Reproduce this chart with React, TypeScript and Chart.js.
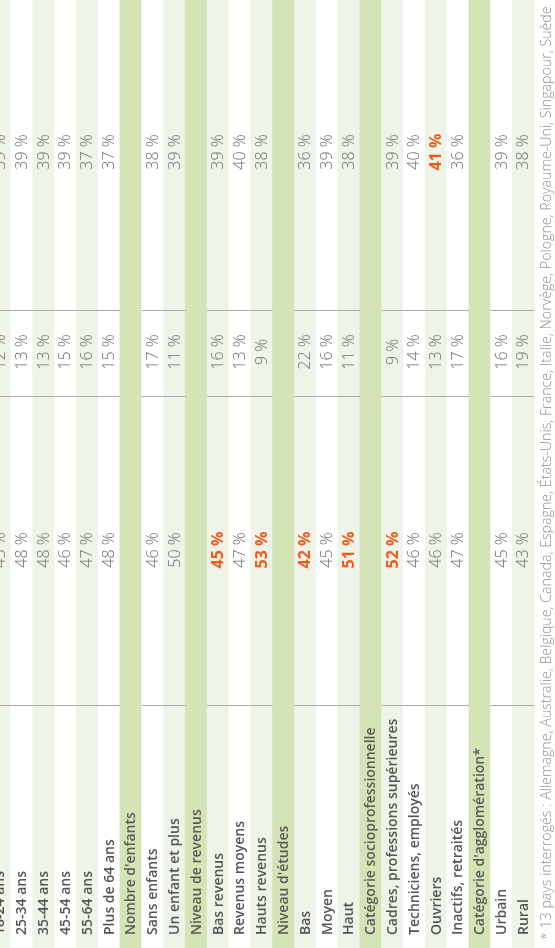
import { useEffect, useRef } from "react";
import { Chart, registerables } from "chart.js";

Chart.register(...registerables);

// ---- data ----
const rowLabels = [
  "18-24 ans",
  "25-34 ans",
  "35-44 ans",
  "45-54 ans",
  "55-64 ans",
  "Plus de 64 ans",
  "Nombre d'enfants",
  "Sans enfants",
  "Un enfant et plus",
  "Niveau de revenus",
  "Bas revenus",
  "Revenus moyens",
  "Hauts revenus",
  "Niveau d'études",
  "Bas",
  "Moyen",
  "Haut",
  "Catégorie socioprofessionnelle",
  "Cadres, professions supérieures",
  "Techniciens, employés",
  "Ouvriers",
  "Inactifs, retraités",
  "Catégorie d'agglomération*",
  "Urbain",
  "Rural",
];

const col1Values = [45, 48, 48, 46, 47, 48, null, 46, 50, null, 45, 47, 53, null, 42, 45, 51, null, 52, 46, 46, 47, null, 45, 43];
const col2Values = [12, 13, 13, 15, 16, 15, null, 17, 11, null, 16, 13, 9, null, 22, 16, 11, null, 9, 14, 13, 17, null, 16, 19];
const col3Values = [39, 39, 39, 39, 37, 37, null, 38, 39, null, 39, 40, 38, null, 36, 39, 38, null, 39, 40, 41, 36, null, 39, 38];

const col1Highlights = [10, 12, 14, 16, 18];
const col2Highlights: number[] = [];
const col3Highlights = [20];

const footnote =
  "* 13 pays interrogés : Allemagne, Australie, Belgique, Canada, Espagne, États-Unis, France, Italie, Norvège, Pologne, Royaume-Uni, Singapour, Suède";

// ---- layout (table units along the rotated axis) ----
const W = 555;
const H = 948;
const LABEL_START = 13;
const COL_CENTERS = [398, 596, 796];
const DIVIDERS = [243, 552, 638];
const FOOTNOTE_ROW = 25.08;
const FOOTNOTE_START = 8;

const HEADER_BG = "#d4e4b4";
const STRIPE_BG = "#eef4e7";
const WHITE_BG = "#ffffff";

const isHeader = (i: number) => col1Values[i] === null;

const tablePlugin = {
  id: "tableText",
  afterDatasetsDraw(chart: any) {
    const { ctx } = chart;
    const xs = chart.scales.x;
    const ys = chart.scales.y;
    const half = (xs.getPixelForValue(1) - xs.getPixelForValue(0)) / 2;
    ctx.save();
    // divider lines
    ctx.fillStyle = "#ababab";
    rowLabels.forEach((_, i) => {
      if (isHeader(i)) return;
      const xc = xs.getPixelForValue(i);
      DIVIDERS.forEach((d) => {
        const y = Math.round(ys.getPixelForValue(d));
        ctx.fillRect(xc - half, y, half * 2, 1);
      });
    });

    const drawRot = (text: string, x: number, y: number, align: CanvasTextAlign, font: string, color: string) => {
      ctx.save();
      ctx.translate(x, y);
      ctx.rotate(-Math.PI / 2);
      ctx.font = font;
      ctx.fillStyle = color;
      ctx.textAlign = align;
      ctx.textBaseline = "middle";
      ctx.fillText(text, 0, 0);
      ctx.restore();
    };

    const cols = [col1Values, col2Values, col3Values];
    const hls = [col1Highlights, col2Highlights, col3Highlights];
    rowLabels.forEach((label, i) => {
      const xc = xs.getPixelForValue(i) + 0.5;
      drawRot(label, xc, ys.getPixelForValue(LABEL_START), "left", '600 14px "Open Sans"', isHeader(i) ? "#5a5a5a" : "#555555");
      cols.forEach((vals, c) => {
        const v = vals[i];
        if (v === null || v === undefined) return;
        const hl = hls[c].includes(i);
        drawRot(
          `${v} %`,
          xc,
          ys.getPixelForValue(COL_CENTERS[c]),
          "center",
          hl ? '700 16px "Open Sans"' : '300 16px "Open Sans"',
          hl ? "#f15a1d" : "#6e6e6e"
        );
      });
    });

    drawRot(footnote, xs.getPixelForValue(FOOTNOTE_ROW), ys.getPixelForValue(FOOTNOTE_START), "left", '300 14.2px "Open Sans"', "#8f8f8f");
    ctx.restore();
  },
};

export default function App() {
  const ref = useRef<HTMLCanvasElement | null>(null);
  useEffect(() => {
    document.body.style.margin = "0";
    const canvas = ref.current;
    if (!canvas) return;
    const chart = new Chart(canvas, {
      type: "bar",
      data: {
        datasets: [
          {
            data: rowLabels.map((_, i) => ({ x: i, y: [0, H] })) as any,
            backgroundColor: rowLabels.map((_, i) => (isHeader(i) ? HEADER_BG : i % 2 === 0 ? STRIPE_BG : WHITE_BG)),
            borderWidth: 0,
            categoryPercentage: 1,
            barPercentage: 1,
          },
        ],
      },
      options: {
        responsive: false,
        animation: false,
        devicePixelRatio: 1,
        layout: { padding: 0 },
        plugins: { legend: { display: false }, tooltip: { enabled: false } },
        scales: {
          x: { type: "linear", min: 0, max: 25.45, offset: false, display: false },
          y: { type: "linear", min: 0, max: H, display: false },
        },
      },
      plugins: [tablePlugin],
    });
    return () => chart.destroy();
  }, []);
  return (
    <div style={{ width: W, height: H, background: "#fff" }}>
      <canvas ref={ref} width={W} height={H} style={{ display: "block" }} />
    </div>
  );
}
